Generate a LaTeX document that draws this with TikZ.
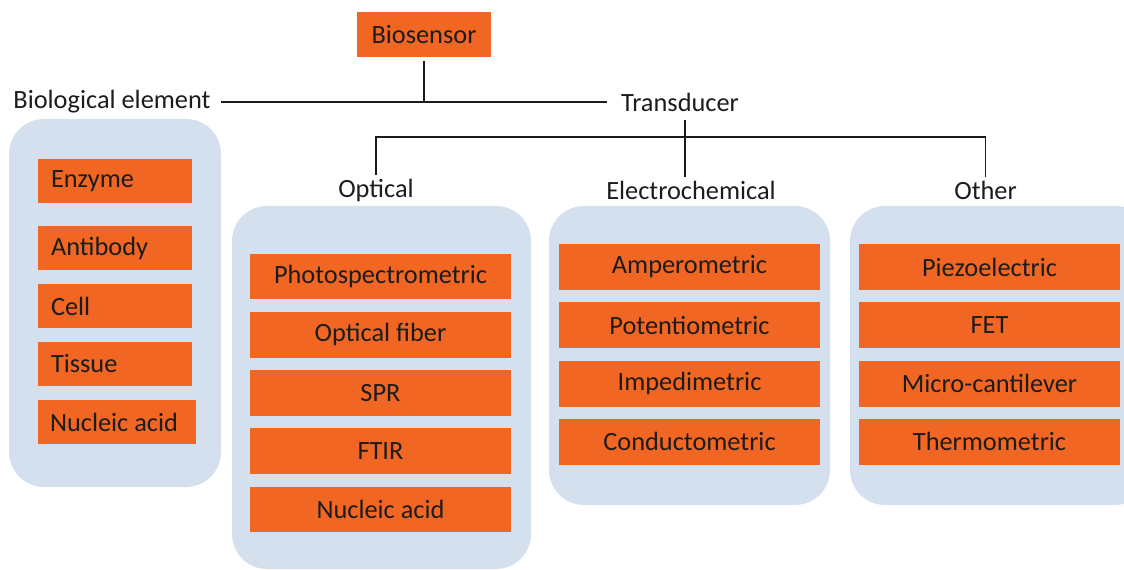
\documentclass[tikz,border=0pt]{standalone}
\usepackage{fontspec}
\setmainfont{Carlito}
\usetikzlibrary{positioning}

\definecolor{boxorange}{RGB}{241,102,34}
\definecolor{panelblue}{RGB}{213,224,238}
\definecolor{inkgray}{RGB}{28,28,28}

\begin{document}
\begin{tikzpicture}[
    x=0.02cm, y=-0.02cm,
    font=\fontsize{15}{18}\selectfont,
    link/.style={draw=inkgray,line width=1pt},
    panel/.style={fill=panelblue,rounded corners=0.7cm},
    box/.style={fill=boxorange,minimum width=5.22cm,minimum height=0.92cm,inner sep=0pt,text=inkgray},
    lbox/.style={box,minimum width=3.08cm,minimum height=0.9cm,text width=2.56cm,align=flush left},
    head/.style={inner sep=2pt,text=inkgray},
  ]

  \useasboundingbox (0,0) rectangle (1124,570);
  \clip (0,0) rectangle (1124,570);

  \node (biosensor) at (424,34.5) [box,minimum width=2.68cm,minimum height=0.9cm] {Biosensor};

  \node (bioel) at (112,102) [head] {Biological element};
  \node (trans) at (680,102) [head] {Transducer};

  \node (optical) at (376,190) [head] {Optical};
  \node (electro) at (691,190) [head] {Electrochemical};
  \node (other) at (985.5,190) [head] {Other};

  \coordinate (tjoin) at (685,137);

  \draw[link,shorten <=0.14cm,shorten >=0.2cm] (bioel.east) -- (trans.west);
  \draw[link] (biosensor.south) ++(0,4) -- (biosensor.south |- bioel.east);
  \draw[link,shorten <=0.1cm] (tjoin |- trans.south) -- (tjoin |- electro.north);
  \draw[link] (optical.north) -- (optical.north |- tjoin) -- (other.north |- tjoin) -- (other.north);

  \fill[panel] (9,119) rectangle (221,487);
  \fill[panel] (232,206) rectangle (531,569);
  \fill[panel] (549,206) rectangle (830,505);
  \fill[panel] (850,206) rectangle (1150,505);

  \node (bio-0) at (115,181) [lbox] {Enzyme};
  \foreach \t [count=\i] in {Antibody,Cell,Tissue}
  {
    \node (bio-\i) at (115,{248+58*(\i-1)}) [lbox] {\t};
  }
  \node (bio-4) at (117,422) [lbox,minimum width=3.16cm,text width=2.68cm] {Nucleic acid};

  \foreach \t [count=\i] in {Photospectrometric,Optical fiber,SPR,FTIR,Nucleic acid}
  {
    \node (opt-\i) at (380.5,{276.5+58.25*(\i-1)}) [box] {\t};
  }

  \foreach \t [count=\i] in {Amperometric,Potentiometric,Impedimetric,Conductometric}
  {
    \node (ele-\i) at (689.5,{267+58.3*(\i-1)}) [box] {\t};
  }

  \foreach \t [count=\i] in {Piezoelectric,FET,Micro-cantilever,Thermometric}
  {
    \node (oth-\i) at (989.5,{267+58.3*(\i-1)}) [box] {\t};
  }

\end{tikzpicture}
\end{document}
